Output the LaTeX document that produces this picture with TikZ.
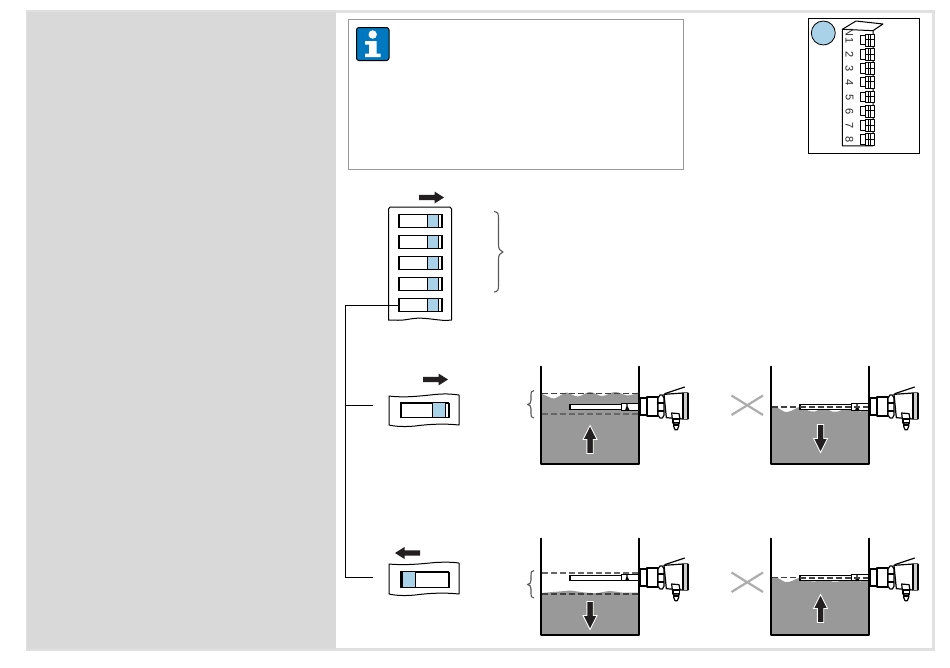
\documentclass[tikz,border=0pt]{standalone}
\usepackage{fontspec}
\setmainfont{Liberation Sans}
\definecolor{panelgray}{HTML}{D9D9D9}
\definecolor{framegray}{HTML}{E0E0E0}
\definecolor{liquid}{HTML}{999999}
\definecolor{switchblue}{HTML}{A9D2E8}
\definecolor{infoblue}{HTML}{0078C0}
\definecolor{arrowblack}{HTML}{231F20}
\tikzset{
  wall/.style={line width=1.9pt,black,line cap=round,line join=round},
  thinbox/.style={draw=black,line width=1pt,fill=white,inner sep=0pt,minimum width=0pt},
  hairline/.style={draw=black,line width=1pt,line join=round},
  bracegray/.style={draw=black!65,line width=1.1pt,line join=round},
  topdash/.style={draw=black!75,line width=1.2pt,dash pattern=on 5.5pt off 3.5pt},
  crossmark/.style={draw=black!32,line width=2.2pt},
  sensor/.pic={
    \begin{scope}[scale=0.3333,line width=1.2pt,line join=round]
      \draw[fill=white,line width=1.9pt] (3,-27) rectangle (24,24);
      \draw[fill=white] (24,-30) rectangle (57,27);
      \draw[fill=white] (57,-27) -- (63,-36) -- (70,-36) -- (75,-27) -- (75,25) -- (70,33) -- (63,33) -- (57,25) -- cycle;
      \draw (57,-12) -- (75,-12) (57,12) -- (75,12);
      \draw[fill=white] (75,-38) -- (132,-42) -- (147,-42) -- (147,36) -- (132,36) -- (82,32) -- cycle;
      \fill[black!20] (134,-42) rectangle (147,36);
      \draw (132,-42) -- (132,36);
      \draw[line width=1.9pt] (147,-42) -- (147,36);
      \draw (77,-40) -- (137,-60);
      \draw[fill=white] (98,18) -- (120,20) -- (123,36) -- (100,36) -- cycle;
      \draw[fill=white] (102,36) -- (121,36) -- (121,48) -- (102,48) -- cycle;
      \draw[fill=white] (104,48) -- (119,48) -- (119,58) -- (115,68) -- (108,68) -- (104,58) -- cycle;
      \draw (104,54) -- (119,54);
    \end{scope}
  },
  rodprobe/.pic={
    \begin{scope}[scale=0.3333,line width=1.1pt]
      \draw[fill=white] (-207,-7) rectangle (-53,8);
      \draw[fill=white] (-53,-10) rectangle (0,10);
      \draw (-36,-10) -- (-36,10) (-40,10) -- (-36,-2) -- (-30,10);
    \end{scope}
  },
  fatarrow/.pic={
    \fill[arrowblack,draw=white,line width=0.9pt] (-3.2,14) -- (-3.2,0) -- (-7,0) -- (0,-14) -- (7,0) -- (3.2,0) -- (3.2,14) -- cycle;
  },
  smallarrow/.pic={
    \fill[arrowblack] (-12.5,-2.6) -- (3,-2.6) -- (3,-6) -- (12.5,0) -- (3,6) -- (3,2.6) -- (-12.5,2.6) -- cycle;
  },
}
\newcommand{\slideswitch}[8]{% name, x0, y0, x1, y1, blue x0, blue x1, inner bar x
  \node[thinbox,anchor=north west,minimum width=#4pt-#2pt,minimum height=#5pt-#3pt] (#1) at (#2,#3) {};
  \fill[switchblue] (#6,#3) rectangle (#7,#5);
  \draw[line width=1pt] (#6,#3) -- (#6,#5) (#7,#3) -- (#7,#5);
  \draw[line width=1pt] (#2,#3) rectangle (#4,#5);
}
\newcommand{\dipswitch}[1]{%
  \draw[line width=1pt,fill=white] (180,#1-15) rectangle (204,#1+13);
  \draw[line width=1pt,fill=white] (197,#1-18) rectangle (222,#1+17);
  \draw[line width=1pt] (206,#1-18) -- (206,#1+17) (212,#1-18) -- (212,#1+17) (197,#1-2) -- (222,#1-2);
}
\begin{document}
\begin{tikzpicture}[x=1pt,y=-1pt]
\useasboundingbox (0,0) rectangle (950,667);
\fill[white] (0,0) rectangle (950,667);
% page frame and side panel
\draw[framegray,line width=2.6pt] (27,11.5) rectangle (933.5,649.5);
\fill[panelgray] (27,12) rectangle (336,649);
% info box
\node[draw=black!40,line width=1pt,minimum width=335pt,minimum height=150pt,anchor=north west,inner sep=0pt,outer sep=0pt] (infobox) at (348,19) {};
\draw[black,line width=1pt,fill=infoblue,rounded corners=2.5pt] (356.5,27.5) rectangle (389,60.5);
\fill[white] (372.7,34.5) circle (4.2);
\fill[white] (365,41) -- (376.5,41) -- (376.5,53.5) -- (380.5,53.5) -- (380.5,57) -- (365,57) -- (365,53.5) -- (369,53.5) -- (369,44.5) -- (365,44.5) -- cycle;
% terminal box
\node[draw=black,line width=1pt,minimum width=111pt,minimum height=135pt,anchor=north west,inner sep=0pt,outer sep=0pt] (termbox) at (808.2,18) {};
\node[circle,draw=black,line width=0.8pt,fill=switchblue,minimum size=24pt,inner sep=0pt] (termcircle) at (823.3,33) {};
\begin{scope}[shift={(800,10)},scale=0.3333,line width=1pt,line join=round]
  \draw[fill=white] (127,58) -- (168,33) -- (249,42) -- (219,62) -- (219,408) -- (127,408) -- cycle;
  \draw (127,58) -- (219,62);
  \foreach \yy in {92,135,177,218,262,305,348,390} {\dipswitch{\yy}}
\end{scope}
\foreach \lab/\yy in {N/66,1/92,2/135,3/177,4/218,5/262,6/305,7/348,8/390}
  \node[rotate=-90,font=\fontsize{11}{11}\selectfont,inner sep=0pt,text=black!85] (dip\lab) at (849.5,10+\yy/3) {\lab};
% switch block
\draw[hairline,fill=white] (388.5,320) -- (388.5,209) -- (390,207) -- (450,207) -- (451.5,209) -- (451.5,320) .. controls (440,322) and (425,316) .. (410,319) .. controls (400,321) and (395,320) .. (388.5,320) -- cycle;
\foreach \n/\yt in {a/214,b/235,c/256,d/277,e/298} {
  \slideswitch{sw\n}{398.5}{\yt}{441.5}{\yt+13}{427}{438.5}{441.5}
}
\pic at (431.5,197.5) {smallarrow};
% brace 1
\draw[bracegray] (494,211.5) .. controls (498,212) and (498.5,214) .. (498.5,218) -- (498.5,245) .. controls (498.5,249) and (500,251) .. (503,252) .. controls (500,253) and (498.5,255) .. (498.5,259) -- (498.5,285) .. controls (498.5,290) and (498,291.5) .. (494,292);
% setting panels
\draw[hairline,fill=white] (389,396) .. controls (405,398) and (420,396) .. (435,394.5) .. controls (445,393.5) and (452,394) .. (459,395) -- (459,425) .. controls (445,423.5) and (430,424) .. (415,426) .. controls (405,427) and (395,426.5) .. (389,425) -- cycle;
\slideswitch{swup}{400.5}{402.5}{448.5}{417}{432.5}{445}{448.5}
\pic at (435.5,379.5) {smallarrow};
\draw[hairline,fill=white] (389,564) .. controls (405,565.5) and (420,564) .. (435,562.5) .. controls (445,562) and (452,562) .. (459,563) -- (459,594) .. controls (445,592.5) and (430,593) .. (415,595) .. controls (405,596) and (395,595.5) .. (389,594) -- cycle;
\slideswitch{swdn}{400.5}{571.5}{448.5}{587}{402.5}{415}{448.5}
\pic[xscale=-1] at (407.5,553) {smallarrow};
% connectors
\coordinate (trunk) at (345,305);
\coordinate (stubup) at (373,405);
\coordinate (stubdn) at (373,577);
\draw[line width=1pt] (swe.west) -- (trunk) -- (trunk |- stubdn) -- (stubdn);
\draw[line width=1pt] (trunk |- stubup) -- (stubup);
% tank 1
\fill[liquid] plot[smooth,tension=0.6] coordinates {(541,393.5) (548,396.5) (554,398.5) (562,394.5) (567,392.5) (578,396.5) (590,392) (602,396) (615,392) (628,395.5) (639,392)} -- (639,464) -- (541,464) -- cycle;
\draw[topdash] (542,393.5) -- (638,393.5);
\draw[topdash,draw=black!60] (542,414) -- (638,414);
\pic at (639,407) {rodprobe};
\pic at (639,407) {sensor};
\pic at (590,439.5) {fatarrow};
\draw[wall] (541,366.5) -- (541,464) -- (639,464) -- (639,366.5);
\draw[bracegray] (534,390.5) .. controls (531,391) and (531,392) .. (531,395) -- (531,400) .. controls (531,403) and (530,404) .. (527.5,404.5) .. controls (530,405) and (531,406) .. (531,409) -- (531,413.5) .. controls (531,416.5) and (531,417.5) .. (534,418);
% tank 2
\fill[liquid] plot[smooth,tension=0.6] coordinates {(771,407) (778,408) (785,412) (792,410.5) (800,407) (808,410.5) (815,411.5) (823,407.5) (832,411.5) (838,411.5) (850,407) (860,411.5) (869,407)} -- (869,464) -- (771,464) -- cycle;
\draw[topdash] (772,407) -- (800,407);
\pic at (869,407) {rodprobe};
\draw[topdash] (800,407) -- (868,407);
\pic at (869,407) {sensor};
\pic[yscale=-1] at (820.5,438.5) {fatarrow};
\draw[wall] (771,366.5) -- (771,464) -- (869,464) -- (869,366.5);
\draw[crossmark] (731.5,395.5) -- (763,415) (731.5,415) -- (763,395.5);
% tank 3
\fill[liquid] plot[smooth,tension=0.6] coordinates {(541,593) (553,592) (565,591) (570,590.5) (585,592.5) (597,593) (610,591) (622,592.5) (639,592.5)} -- (639,635) -- (541,635) -- cycle;
\draw[topdash,draw=black!60] (542,573) -- (638,573);
\draw[topdash] (542,594) -- (638,594);
\pic at (639,577.5) {rodprobe};
\pic at (639,578) {sensor};
\pic[yscale=-1] at (590,615.5) {fatarrow};
\draw[wall] (541,538.5) -- (541,635) -- (639,635) -- (639,538.5);
\draw[bracegray] (534,570.5) .. controls (531,571) and (531,572) .. (531,575) -- (531,580) .. controls (531,583) and (530,584) .. (527.5,584.5) .. controls (530,585) and (531,586) .. (531,589) -- (531,593.5) .. controls (531,596.5) and (531,597.5) .. (534,598);
% tank 4
\fill[liquid] plot[smooth,tension=0.6] coordinates {(771,577.5) (778,578) (785,582) (792,581) (800,577.5) (808,580.5) (815,581.5) (823,577.5) (832,581.5) (838,581.5) (850,577.5) (860,581.5) (869,577.5)} -- (869,635) -- (771,635) -- cycle;
\draw[topdash] (772,577.5) -- (800,577.5);
\pic at (869,577.5) {rodprobe};
\draw[topdash] (800,578) -- (868,578);
\pic at (869,578) {sensor};
\pic at (820.5,608.5) {fatarrow};
\draw[wall] (771,538.5) -- (771,635) -- (869,635) -- (869,538.5);
\draw[crossmark] (731.5,572.5) -- (763,592) (731.5,592) -- (763,572.5);
\end{tikzpicture}
\end{document}
